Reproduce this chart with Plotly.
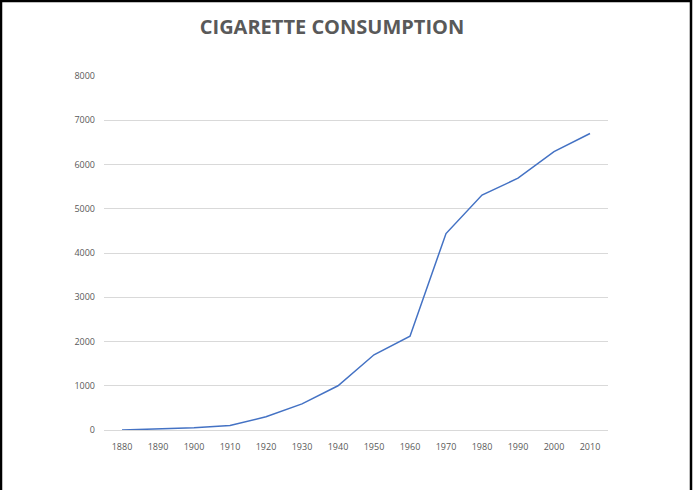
import plotly.graph_objects as go

years = ["1880", "1890", "1900", "1910", "1920", "1930", "1940", "1950",
         "1960", "1970", "1980", "1990", "2000", "2010"]
consumption = [0, 20, 50, 100, 300, 590, 1000, 1700, 2120, 4440, 5310, 5690, 6290, 6700]

fig = go.Figure()
fig.add_trace(go.Scatter(x=years, y=consumption, mode="lines",
                         line=dict(color="#4472C4", width=1.5)))

W, H = 695, 490
L, R, T, B = 104, 87, 76, 60
pw, ph = W - L - R, H - T - B

def px_x(p):
    return (p - L) / pw

def px_y(p):
    return (H - B - p) / ph

# outer black frame (left, top, right)
for x0, y0, x1, y1 in [(1, 0, 1, H), (0, 1, W - 3, 1), (W - 4, 0, W - 4, H)]:
    fig.add_shape(type="line", xref="paper", yref="paper",
                  x0=px_x(x0), y0=px_y(y0), x1=px_x(x1), y1=px_y(y1),
                  line=dict(color="black", width=2.5))

fig.update_layout(
    width=W, height=H,
    margin=dict(l=L, r=R, t=T, b=B),
    plot_bgcolor="white", paper_bgcolor="white",
    showlegend=False,
    title=dict(text="<b>CIGARETTE CONSUMPTION</b>", x=332 / W, xanchor="center",
               y=1 - 27 / H, yanchor="middle",
               font=dict(family="Open Sans", size=20, color="#595959")),
    font=dict(family="Open Sans", size=9, color="#595959"),
    xaxis=dict(type="category", range=[-0.5, len(years) - 0.5], showgrid=False,
               showline=True, linecolor="#d9d9d9", linewidth=1, ticks="",
               ticklabelstandoff=8,
               tickfont=dict(size=9, color="#595959"), fixedrange=True),
    yaxis=dict(range=[0, 8000], dtick=1000, showgrid=True, gridcolor="#d9d9d9",
               gridwidth=1, zeroline=False, showline=False, ticks="",
               ticklabelstandoff=8,
               tickfont=dict(size=9, color="#595959"), fixedrange=True),
)

fig.write_html("out.html")
